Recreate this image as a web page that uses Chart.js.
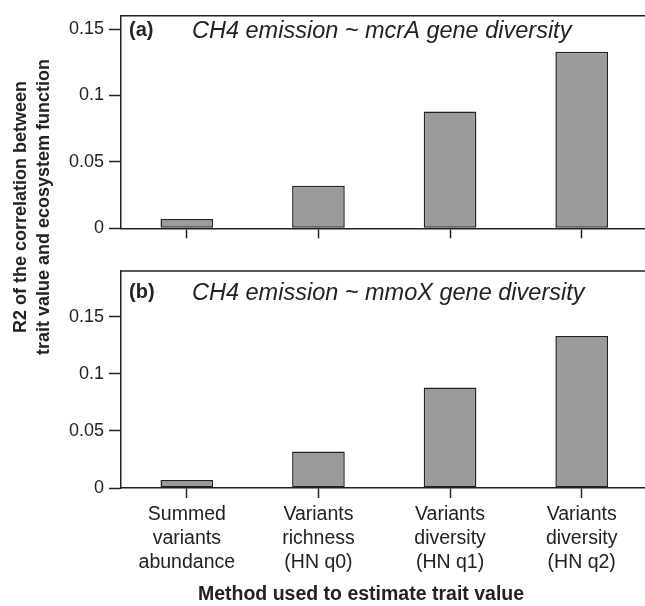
<!DOCTYPE html>
<html>
<head>
<meta charset="utf-8">
<script src="https://cdn.jsdelivr.net/npm/chart.js@4.4.1/dist/chart.umd.min.js"></script>
<style>
   html, body { margin: 0; padding: 0; background: #fff; overflow: hidden; }
   #wrap { position: relative; width: 645px; height: 606px; overflow: hidden; }
   canvas { position: absolute; left: 0; top: 0; }
</style>
</head>
<body>
<div id="wrap">
   <canvas id="chartB" width="652" height="606"></canvas>
   <canvas id="chartA" width="652" height="606"></canvas>
</div>
<script>
const categories = [
   ["Summed", "variants", "abundance"],
   ["Variants", "richness", "(HN q0)"],
   ["Variants", "diversity", "(HN q1)"],
   ["Variants", "diversity", "(HN q2)"],
];
const mcrAValues = [0.007, 0.032, 0.088, 0.133];
const mmoXValues = [0.007, 0.032, 0.088, 0.133];
const yTicks = [0, 0.05, 0.1, 0.15];
const titleA = "CH4 emission ~ mcrA gene diversity";
const titleB = "CH4 emission ~ mmoX gene diversity";
const xTitle = "Method used to estimate trait value";
const yTitle = ["R2 of the correlation between", "trait value and ecosystem function"];

const ink = "#222";
const font = "'Liberation Sans', Arial, sans-serif";

// box on top and right of the plot area, plus the panel caption
const panelDecor = {
   id: "panelDecor",
   afterDraw(chart, args, opts) {
      const { ctx, chartArea: a } = chart;
      ctx.save();
      ctx.strokeStyle = ink;
      ctx.lineWidth = 1.5;
      ctx.beginPath();
      ctx.moveTo(a.left, a.top);
      ctx.lineTo(a.right, a.top);
      ctx.lineTo(a.right, a.bottom);
      ctx.stroke();
      ctx.fillStyle = ink;
      ctx.textBaseline = "middle";
      ctx.textAlign = "left";
      ctx.font = "bold 20px " + font;
      ctx.fillText(opts.tag, a.left + 8, a.top + opts.dy);
      ctx.font = "italic 23.5px " + font;
      ctx.fillText(opts.text, a.left + 71, a.top + opts.dy + 1);
      if (opts.xTitle) {
         ctx.font = "bold 19.5px " + font;
         ctx.textAlign = "center";
         ctx.fillText(opts.xTitle, 361, 595);
      }
      if (opts.yTitle) {
         ctx.font = "bold 18px " + font;
         ctx.textAlign = "center";
         ctx.translate(0, 207);
         ctx.rotate(-Math.PI / 2);
         ctx.fillText(opts.yTitle[0], 0, 21);
         ctx.fillText(opts.yTitle[1], 0, 44);
      }
      ctx.restore();
   },
};

function makeOptions(yMax, padTop, padBottom, xHeight, showLabels, decor) {
   return {
      responsive: false,
      animation: false,
      layout: { padding: { top: padTop, bottom: padBottom, left: 0, right: 4.5 } },
      plugins: {
         legend: { display: false },
         tooltip: { enabled: false },
         panelDecor: decor,
      },
      scales: {
         x: {
            afterFit: (s) => { s.height = xHeight; },
            grid: {
               offset: false,
               drawOnChartArea: false,
               drawTicks: true,
               tickLength: 10,
               tickWidth: 1.5,
               color: ink,
            },
            border: { display: true, color: ink, width: 1.5 },
            ticks: {
               display: showLabels,
               color: ink,
               padding: 4,
               maxRotation: 0,
               autoSkip: false,
               font: { family: font, size: 19.5, lineHeight: 1.25 },
            },
         },
         y: {
            min: 0,
            max: yMax,
            afterFit: (s) => { s.width = 121; },
            afterBuildTicks: (s) => { s.ticks = yTicks.map((v) => ({ value: v })); },
            grid: {
               drawOnChartArea: false,
               drawTicks: true,
               tickLength: 12,
               tickWidth: 1.5,
               color: ink,
            },
            border: { display: true, color: ink, width: 1.5 },
            ticks: {
               color: ink,
               padding: 5,
               font: { family: font, size: 18 },
               callback: (v) => String(v),
            },
         },
      },
   };
}

function makeData(values) {
   return {
      labels: categories,
      datasets: [
         {
            data: values,
            backgroundColor: "#9b9b9b",
            borderColor: ink,
            borderWidth: 1.5,
            borderSkipped: false,
            barPercentage: 0.4,
            categoryPercentage: 1.0,
         },
      ],
   };
}

new Chart(document.getElementById("chartA"), {
   type: "bar",
   data: makeData(mcrAValues),
   options: makeOptions(0.16, 11, 606 - 228.3 - 12, 12, false,
      { tag: "(a)", text: titleA, dy: 15, yTitle: yTitle }),
   plugins: [panelDecor],
});

new Chart(document.getElementById("chartB"), {
   type: "bar",
   data: makeData(mmoXValues),
   options: makeOptions(0.19, 271, 0, 118, true,
      { tag: "(b)", text: titleB, dy: 21, xTitle: xTitle }),
   plugins: [panelDecor],
});
</script>
</body>
</html>
